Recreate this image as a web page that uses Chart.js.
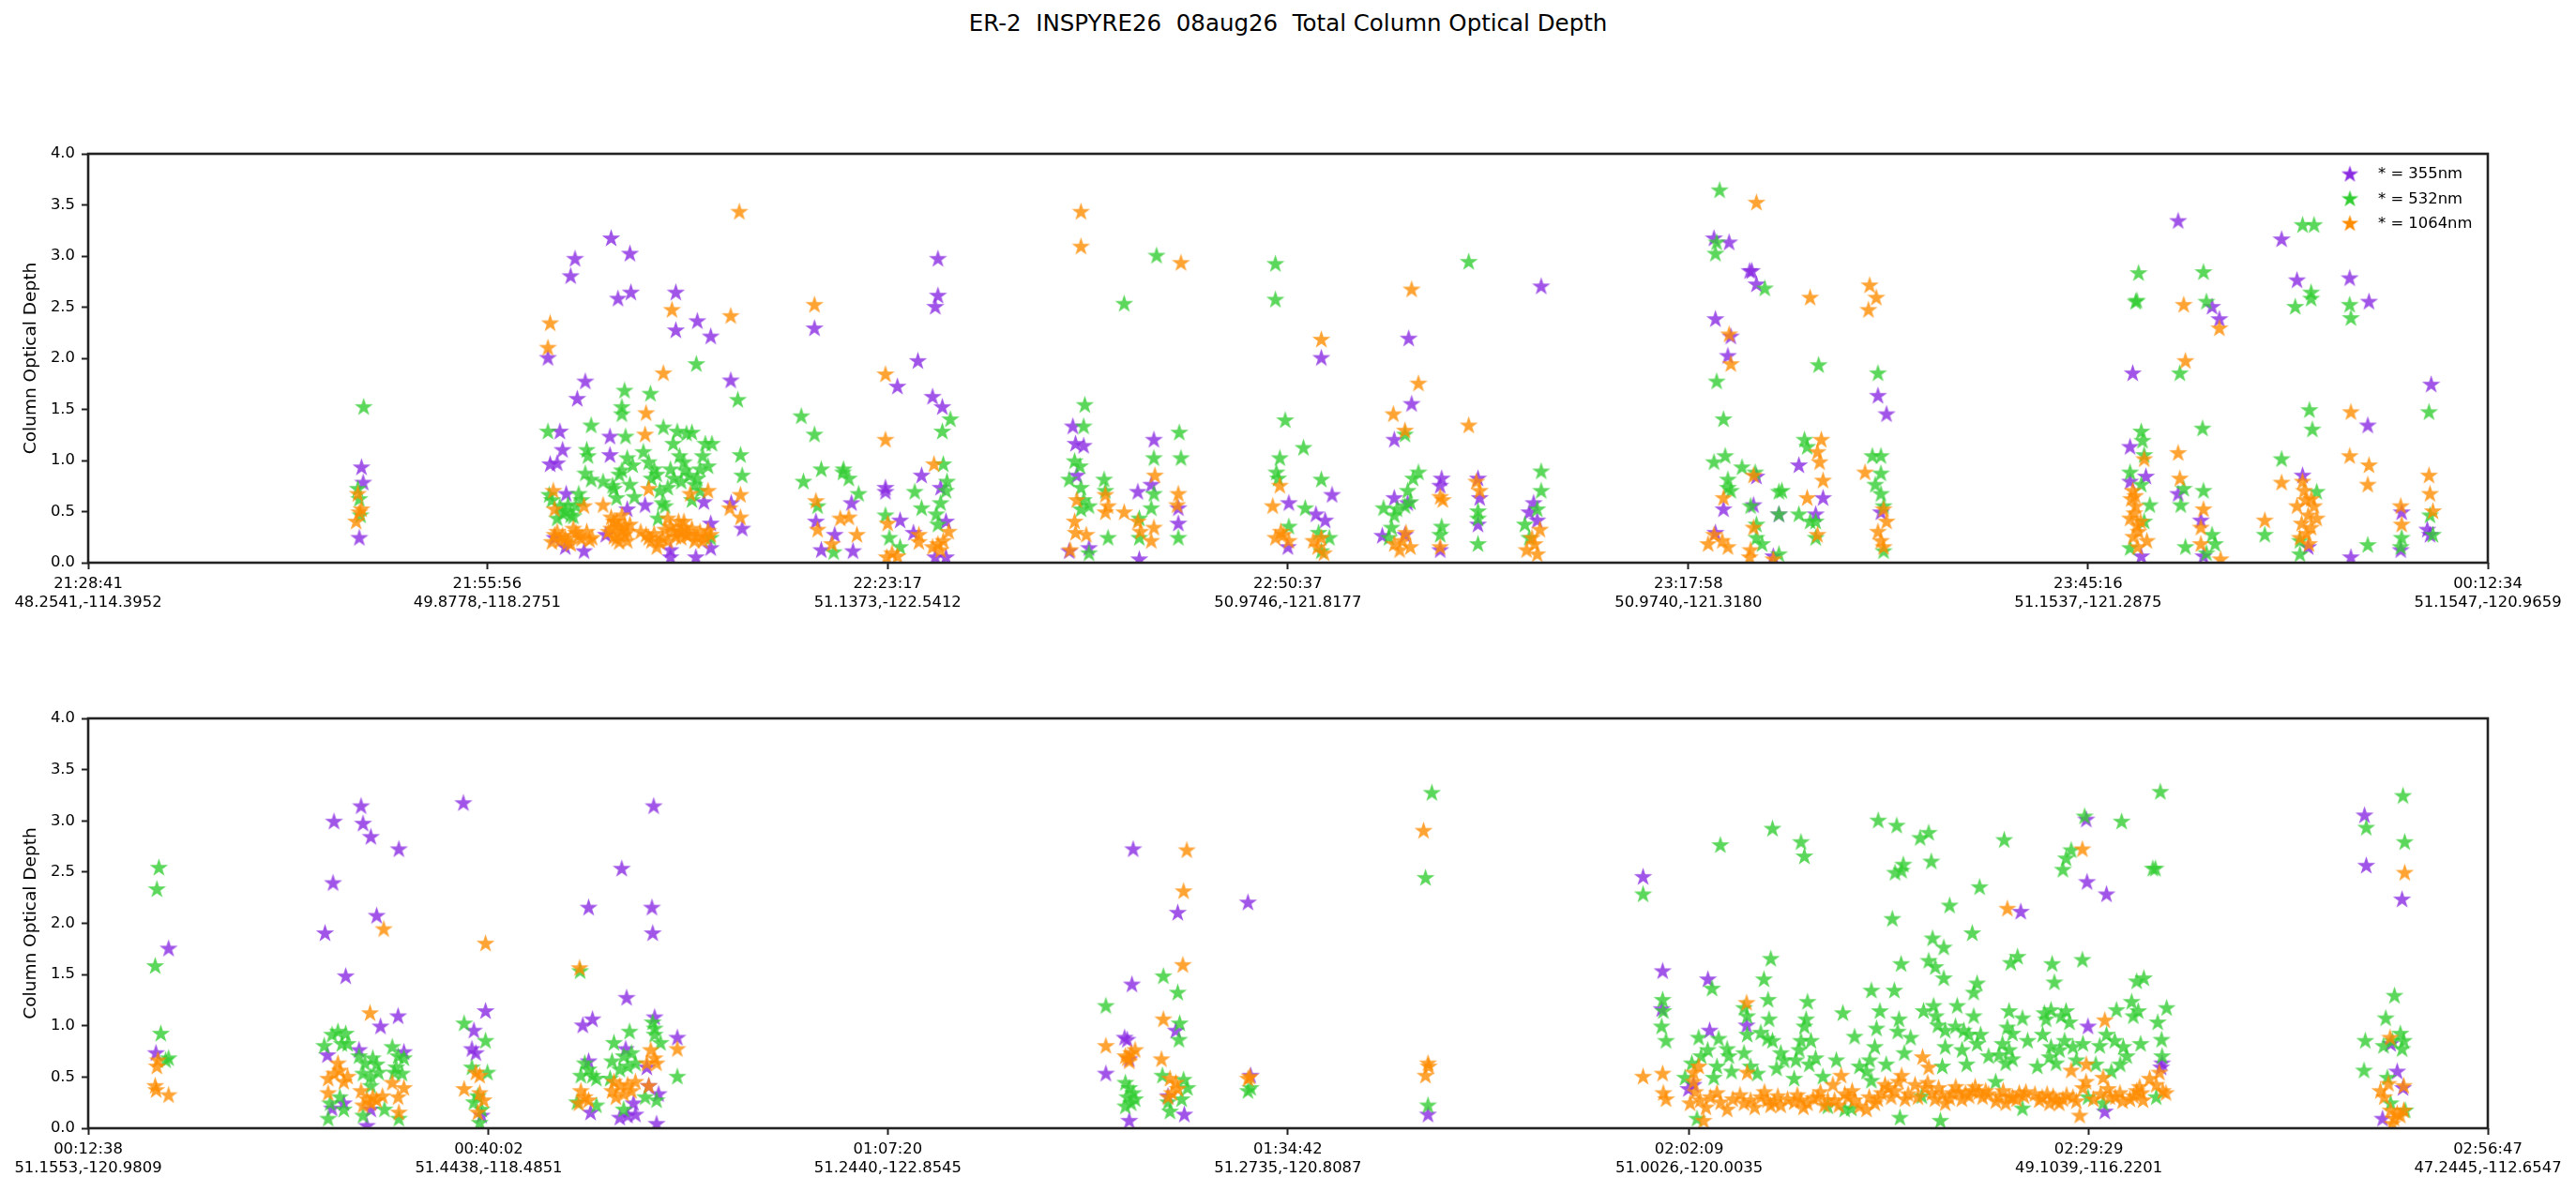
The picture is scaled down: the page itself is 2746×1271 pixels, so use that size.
<!DOCTYPE html>
<html>
<head>
<meta charset="utf-8">
<script src="https://cdn.jsdelivr.net/npm/chart.js@4.4.1/dist/chart.umd.min.js"></script>
<style>
    html, body { margin: 0; padding: 0; background: #fff; }
    body { width: 2746px; height: 1271px; position: relative; overflow: hidden; font-family: "DejaVu Sans", sans-serif; }
    #title { position: absolute; left: 0; top: 13px; width: 2746px; text-align: center; font-size: 24.5px; line-height: 24.5px; color: #000; white-space: pre; }
    .panel { position: absolute; left: 0; width: 2746px; }
    #p1 { top: 140px; height: 560px; }
    #p2 { top: 700px; height: 571px; }
</style>
</head>
<body>
<div id="title">ER-2  INSPYRE26  08aug26  Total Column Optical Depth</div>
<div class="panel" id="p1"><canvas id="topChart"></canvas></div>
<div class="panel" id="p2"><canvas id="bottomChart"></canvas></div>
<script>
// tick labels (time, lat/lon) for each leg
const topTimes = ['21:28:41', '21:55:56', '22:23:17', '22:50:37', '23:17:58', '23:45:16', '00:12:34'];
const topPlaces = ['48.2541,-114.3952', '49.8778,-118.2751', '51.1373,-122.5412', '50.9746,-121.8177', '50.9740,-121.3180', '51.1537,-121.2875', '51.1547,-120.9659'];
const botTimes = ['00:12:38', '00:40:02', '01:07:20', '01:34:42', '02:02:09', '02:29:29', '02:56:47'];
const botPlaces = ['51.1553,-120.9809', '51.4438,-118.4851', '51.2440,-122.8545', '51.2735,-120.8087', '51.0026,-120.0035', '49.1039,-116.2201', '47.2445,-112.6547'];

const yTicks = [0, 0.5, 1, 1.5, 2, 2.5, 3, 3.5, 4];

// [seconds after first tick, optical depth]
const top355 = [
    [1120,0.93],[1127,0.78],[1111,0.24],
    [1884,2.0],[1995,2.97],[1977,2.80],[2037,1.77],[2004,1.60],[1933,1.28],[1944,1.10],[1893,0.96],[1922,0.97],[2143,3.17],[2171,2.58],[2220,3.02],[2224,2.64],[2138,1.23],[2138,1.05],[2209,0.52],[2408,2.64],[2408,2.27],[2496,2.36],[2551,2.21],[2633,1.78],[2635,0.58],[2680,0.33],[2282,0.56],[2386,0.12],[2386,0.05],[2490,0.05],[2523,0.59],[2551,0.14],[2032,0.11],[1955,0.15],[1911,0.24],[2121,0.27],[1959,0.67],[2551,0.38],
    [2976,2.29],[2982,0.40],[3004,0.12],[3059,0.27],
    [3128,0.58],[3134,0.11],[3267,0.73],[3267,0.69],[3316,1.72],[3400,1.97],[3415,0.85],[3327,0.41],[3382,0.29],[3460,1.62],[3500,1.52],[3482,2.97],[3482,2.61],[3471,2.50],[3493,0.73],[3515,0.40],[3471,0.05],[3515,0.05],
    [4035,1.33],[4046,1.16],[4079,1.14],[4051,0.85],[4367,1.20],[4301,0.69],[4356,0.76],[4467,0.53],[4467,0.38],[4307,0.03],[4020,0.11],[4101,0.14],
    [5053,2.00],[4920,0.58],[5097,0.66],[5031,0.47],[5069,0.41],[4916,0.15],
    [5411,2.19],[5423,1.55],[5352,1.20],[5352,0.63],[5303,0.26],[5407,0.58],[5396,0.27],
    [5546,0.82],[5540,0.75],[5695,0.82],[5702,0.63],[5695,0.37],[5540,0.12],
    [5954,2.70],[5923,0.58],[5905,0.49],[5938,0.41],
    [6662,3.17],[6724,3.13],[6808,2.85],[6817,2.85],[6836,2.72],[6668,2.38],[6731,2.21],[6719,2.02],[7334,1.63],[7369,1.45],[7010,0.95],[6836,0.84],[7109,0.63],[6701,0.52],[6824,0.56],[7079,0.47],[6928,0.47],[7346,0.49],[6905,0.06],[6668,0.29],
    [8378,1.85],[8564,3.34],[8703,2.50],[8733,2.38],[8988,3.16],[9051,2.76],[9267,2.78],[9346,2.55],[9601,1.74],[9341,1.34],[8367,1.13],[8432,0.84],[8367,0.79],[8564,0.67],[9074,0.85],[9480,0.49],[9585,0.32],[9596,0.27],[8413,0.06],[8657,0.41],[8668,0.06],[9272,0.05],[9097,0.15],[9476,0.12]
];
const top532 = [
    [1129,1.52],[1105,0.72],[1111,0.62],[1116,0.46],
    [1884,1.28],[2061,1.34],[2198,1.68],[2187,1.52],[2187,1.45],[2202,1.23],[2304,1.65],[2357,1.32],[2492,1.94],[2662,1.59],[2673,1.05],[2680,0.85],[2043,1.10],[2048,1.04],[2037,0.87],[2061,0.81],[2010,0.67],[1889,0.66],[1900,0.61],[1933,0.55],[1955,0.50],[1977,0.46],[1922,0.43],[1999,0.55],[2021,0.61],[2110,0.79],[2149,0.75],[2165,0.63],[2187,0.90],[2209,1.02],[2220,0.76],[2238,0.64],[2275,1.08],[2297,0.98],[2308,0.82],[2319,0.91],[2342,0.70],[2353,0.58],[2335,0.43],[2364,0.55],[2375,0.73],[2386,0.91],[2397,1.16],[2414,1.28],[2452,1.26],[2474,1.27],[2423,1.04],[2441,0.98],[2463,0.85],[2485,0.76],[2507,0.91],[2518,1.04],[2529,1.16],[2556,1.16],[2507,0.70],[2430,0.79],[2474,0.61],[2551,0.24],
    [1944,0.48],[1966,0.56],[1988,0.45],[2154,0.72],[2176,0.86],[2231,0.95],[2330,0.86],[2400,0.82],[2445,0.90],[2496,0.82],[2540,0.94],
    [2922,1.43],[2976,1.25],[3004,0.91],[2931,0.79],[2989,0.55],[3055,0.10],[3093,0.88],
    [3095,0.91],[3117,0.82],[3157,0.67],[3267,0.46],[3283,0.24],[3387,0.69],[3415,0.53],[3500,1.28],[3533,1.40],[3504,0.96],[3493,0.58],[3475,0.47],[3519,0.79],[3515,0.70],[3482,0.37],[3327,0.15],
    [4084,1.54],[4079,1.33],[4042,0.99],[4064,0.94],[4020,0.81],[4068,0.73],[4079,0.61],[4068,0.52],[4101,0.55],[4163,0.81],[4168,0.70],[4245,2.53],[4378,3.00],[4367,1.02],[4367,0.67],[4356,0.53],[4307,0.43],[4179,0.24],[4101,0.09],[4471,1.27],[4478,1.02],[4467,0.24],[4307,0.24],
    [4865,2.92],[4865,2.57],[4905,1.39],[4980,1.12],[4883,1.02],[4869,0.88],[4876,0.82],[5053,0.81],[4987,0.53],[4920,0.35],[5086,0.24],[5042,0.29],[5053,0.11],
    [5396,1.25],[5451,0.88],[5429,0.82],[5407,0.70],[5308,0.53],[5352,0.46],[5363,0.52],[5396,0.55],[5418,0.59],[5341,0.34],[5330,0.24],
    [5657,2.94],[5546,0.35],[5540,0.27],[5695,0.50],[5695,0.43],[5695,0.18],
    [5954,0.89],[5954,0.70],[5938,0.52],[5887,0.37],[5905,0.24],
    [6685,3.64],[6668,3.02],[6673,3.13],[6870,2.68],[6673,1.77],[6701,1.40],[7091,1.93],[7334,1.85],[6662,0.98],[6708,1.04],[6777,0.93],[6719,0.81],[6719,0.73],[6731,0.70],[6831,0.88],[6812,0.55],[6836,0.37],[6836,0.24],[6859,0.18],[6928,0.69],[6940,0.70],[6928,0.47],[7010,0.47],[7056,0.40],[7079,0.40],[7033,1.20],[7044,1.13],[7311,1.04],[7346,1.04],[7346,0.87],[7323,0.76],[7346,0.67],[7357,0.55],[7357,0.11],[7079,0.24],[6928,0.08],
    [8402,2.83],[8390,2.55],[8395,2.56],[8668,2.84],[8680,2.55],[8571,1.85],[9074,3.30],[9121,3.30],[9109,2.64],[9109,2.58],[9044,2.50],[9267,2.52],[9272,2.39],[9102,1.49],[9114,1.30],[9592,1.47],[8664,1.31],[8413,1.28],[8418,1.19],[8425,1.05],[8367,0.88],[8413,0.76],[8448,0.56],[8425,0.40],[8367,0.14],[8587,0.72],[8668,0.70],[8575,0.56],[8594,0.15],[8703,0.27],[8715,0.18],[8680,0.09],[8988,1.01],[8919,0.27],[9132,0.69],[9063,0.21],[9063,0.08],[9341,0.17],[9480,0.24],[9476,0.15],[9596,0.46],[9608,0.27]
];
const top1064 = [
    [1105,0.67],[1120,0.52],[1098,0.40],[1111,0.49],
    [1893,2.34],[1884,2.10],[2392,2.47],[2633,2.41],[2668,3.43],[2357,1.85],[2286,1.46],[2282,1.25],[1906,0.70],[1911,0.52],[2032,0.55],[2110,0.56],[2297,0.72],[2467,0.67],[2540,0.70],[2673,0.66],[2673,0.44],[2629,0.53],
    [1911,0.27],[1933,0.21],[1955,0.24],[1977,0.18],[1999,0.29],[2021,0.23],[2043,0.30],[2065,0.24],[2154,0.40],[2176,0.34],[2165,0.23],[2198,0.27],[2220,0.37],[2187,0.46],[2209,0.21],[2132,0.30],[2286,0.27],[2308,0.21],[2330,0.15],[2353,0.24],[2375,0.21],[2397,0.30],[2419,0.40],[2441,0.34],[2463,0.27],[2430,0.24],[2485,0.21],[2507,0.30],[2529,0.24],[2551,0.27],[2375,0.43],[2264,0.30],
    [1900,0.20],[1922,0.30],[1944,0.26],[1966,0.20],[1988,0.33],[2010,0.26],[2054,0.22],[2143,0.33],[2154,0.25],[2176,0.20],[2187,0.31],[2198,0.36],[2143,0.44],[2209,0.30],[2297,0.24],[2319,0.28],[2342,0.20],[2364,0.32],[2408,0.25],[2419,0.31],[2452,0.27],[2474,0.33],[2496,0.25],[2518,0.21],[2540,0.31],[2165,0.40],[2386,0.35],[2441,0.40],[2430,0.30],
    [2976,2.52],[2982,0.60],[2989,0.32],[3048,0.18],[3082,0.43],
    [3267,1.84],[3267,1.20],[3466,0.96],[3117,0.44],[3150,0.27],[3276,0.38],[3294,0.09],[3316,0.06],[3404,0.20],[3404,0.27],[3460,0.15],[3482,0.18],[3504,0.21],[3526,0.30],[3493,0.12],[3272,0.05],
    [4068,3.43],[4068,3.09],[4478,2.93],[4371,0.85],[4467,0.67],[4462,0.56],[4168,0.66],[4168,0.49],[4179,0.55],[4245,0.49],[4301,0.40],[4312,0.30],[4367,0.34],[4356,0.21],[4051,0.61],[4042,0.40],[4046,0.29],[4090,0.27],[4024,0.12],
    [5053,2.18],[4883,0.75],[4854,0.55],[4865,0.24],[4898,0.27],[4920,0.21],[4887,0.30],[5020,0.21],[5038,0.15],[5064,0.09],[5053,0.24],
    [5423,2.67],[5451,1.75],[5348,1.45],[5396,1.29],[5400,0.29],[5352,0.18],[5374,0.12],[5418,0.15],[5385,0.21],
    [5657,1.34],[5540,0.64],[5551,0.61],[5688,0.79],[5702,0.70],[5540,0.15],
    [5949,0.32],[5916,0.24],[5927,0.18],[5894,0.12],[5938,0.08],
    [6836,3.52],[7300,2.71],[7327,2.59],[7056,2.59],[7295,2.47],[6724,2.23],[6731,1.94],[7102,1.20],[7086,1.08],[7095,0.98],[7109,0.80],[6824,0.85],[7281,0.88],[7044,0.63],[6701,0.63],[7357,0.52],[6662,0.27],[6696,0.21],[6638,0.18],[6719,0.15],[6824,0.34],[6812,0.12],[6808,0.05],[6905,0.03],[7086,0.27],[7334,0.30],[7346,0.21],[7357,0.15],[7369,0.40],
    [8587,2.52],[8594,1.97],[8733,2.29],[9272,1.47],[9267,1.04],[9346,0.95],[9341,0.76],[8564,1.07],[8571,0.82],[8425,1.01],[8988,0.78],[9074,0.79],[9592,0.85],[9596,0.67],[9608,0.50],[9476,0.55],[9480,0.37],[8919,0.41],[8378,0.70],[8390,0.55],[8367,0.43],[8402,0.30],[8436,0.21],[8668,0.52],[8657,0.34],[8657,0.18],[8738,0.03],[9051,0.55],[9097,0.46],[9121,0.55],[9109,0.34],[9063,0.24],[9132,0.43],[9086,0.61],
    [8372,0.62],[8385,0.48],[8395,0.36],[8380,0.25],[8410,0.40],[8398,0.15],[8388,0.65],[9070,0.38],[9090,0.28],[9110,0.62],[9080,0.70],[9100,0.18]
];

const bot355 = [
    [330,1.75],[278,0.73],
    [1009,2.99],[1120,3.14],[1128,2.97],[1160,2.84],[1275,2.72],[1005,2.39],[1184,2.07],[972,1.90],[1057,1.48],[1272,1.09],[1200,0.99],[982,0.71],[1112,0.76],[1296,0.74],[1001,0.19],[1144,0.02],[1049,0.24],[1160,0.18],
    [1540,3.17],[1631,1.14],[1583,0.95],[1575,0.77],[1591,0.73],[1615,0.12],
    [2321,3.14],[2190,2.53],[2054,2.15],[2314,2.15],[2317,1.90],[2210,1.27],[2030,1.00],[2070,1.06],[2325,1.08],[2418,0.88],[2054,0.65],[2206,0.77],[2293,0.59],[2062,0.15],[2182,0.10],[2214,0.12],[2246,0.13],[2333,0.04],[2238,0.24],[2341,0.33],[2301,0.41],
    [4289,2.72],[4284,1.40],[4254,0.88],[4265,0.86],[4177,0.53],[4273,0.67],[4273,0.07],
    [4472,2.10],[4464,0.95],[4499,0.13],[4432,0.31],
    [4760,2.20],[4771,0.51],
    [5499,0.13],
    [6382,2.45],[6462,1.53],[6648,1.45],[6655,0.95],[6807,1.00],[6458,1.16],[7932,2.11],[8201,3.01],[8204,2.40],[8284,2.28],[8208,0.99],[8277,0.16],[6568,0.38],[6589,0.42],
    [8512,0.63],[8508,0.59],
    [9343,3.05],[9350,2.56],[9497,2.23],[9477,0.55],[9501,0.39],[9417,0.09],[9450,0.82]
];
const bot532 = [
    [290,2.54],[282,2.33],[275,1.58],[298,0.92],[330,0.68],[318,0.66],
    [969,0.80],[1001,0.91],[1025,0.94],[1057,0.92],[1041,0.82],[1065,0.82],[1112,0.70],[1136,0.63],[1168,0.68],[1184,0.62],[1128,0.53],[1160,0.50],[1192,0.54],[1248,0.79],[1272,0.70],[1296,0.68],[1264,0.59],[1288,0.53],[1256,0.54],[985,0.09],[1049,0.18],[1128,0.12],[1216,0.18],[1275,0.09],[1033,0.30],[1160,0.41],[993,0.24],
    [1543,1.02],[1631,0.85],[1639,0.54],[1575,0.59],[1583,0.25],[1607,0.05],[1615,0.18],[1599,0.31],
    [2019,1.53],[2317,1.03],[2325,0.97],[2325,0.91],[2222,0.94],[2158,0.83],[2349,0.83],[2022,0.51],[2038,0.63],[2054,0.57],[2070,0.51],[2086,0.48],[2150,0.65],[2182,0.57],[2198,0.70],[2230,0.73],[2246,0.63],[2214,0.60],[2142,0.48],[2418,0.50],[2286,0.30],[2333,0.27],[2198,0.18],[2006,0.25],[2086,0.22],
    [4177,1.19],[4257,0.44],[4273,0.39],[4289,0.34],[4265,0.30],[4281,0.24],[4257,0.21],[4297,0.28],
    [4413,1.48],[4472,1.32],[4480,1.02],[4477,0.86],[4409,0.51],[4496,0.47],[4512,0.39],[4440,0.16],[4488,0.28],[4432,0.25],
    [4760,0.36],[4771,0.39],
    [5515,3.27],[5489,2.44],[5499,0.22],
    [6382,2.28],[6699,2.76],[6913,2.92],[7030,2.79],[7044,2.65],[7347,3.00],[7423,2.95],[7519,2.83],[7554,2.88],[7565,2.60],[7416,2.49],[7450,2.57],[7443,2.51],[7864,2.81],[7763,2.35],[7640,2.17],[7405,2.04],[7733,1.90],[7570,1.85],[7616,1.76],[7891,1.61],[7919,1.67],[8061,1.60],[8185,1.64],[8070,1.42],[8139,2.71],[8118,2.63],[8105,2.52],[8194,3.04],[8346,2.99],
    [7441,1.60],[7554,1.63],[7581,1.57],[7616,1.46],[7753,1.41],[7739,1.32],[6906,1.65],[6878,1.45],[6895,1.25],[6899,1.06],[6865,0.93],[6892,0.87],[6913,0.85],[6462,1.25],[6465,1.14],[6458,0.99],[6476,0.85],[6665,1.36],[6610,0.88],[6647,0.76],[6692,0.87],[6727,0.77],[6734,0.70],[6582,0.63],[6685,0.60],[6672,0.49],
    [6796,1.17],[6809,1.09],[6809,0.91],[6796,0.73],[6823,0.60],[6851,0.53],[6947,0.73],[6961,0.66],[7057,1.23],[7051,1.06],[7044,0.99],[7030,0.85],[7071,0.85],[7023,0.76],[7009,0.66],[7064,0.62],[7002,0.48],[7202,1.12],[7250,0.89],[7175,0.66],[7319,1.34],[7354,1.14],[7340,0.97],[7333,0.79],[7312,0.66],[7299,0.55],[7319,0.46],
    [7413,1.34],[7432,1.06],[7427,0.94],[7454,0.73],[7533,1.14],[7574,1.19],[7584,1.09],[7592,1.00],[7622,0.95],[7622,0.79],[7671,1.19],[7664,0.99],[7698,0.95],[7719,0.91],[7739,1.09],[7767,0.91],[7753,0.82],[7691,0.76],[7884,1.14],[7939,1.07],[7877,0.98],[7898,0.92],[7857,0.82],[7884,0.76],[7843,0.71],[7898,0.67],[7870,0.63],[7829,0.45],
    [8029,1.12],[8056,1.15],[8118,1.14],[8098,1.09],[8132,1.03],[8036,1.06],[8022,0.91],[8112,0.85],[8056,0.79],[8091,0.76],[8050,0.69],[8077,0.63],[8146,0.79],[8187,0.82],[8256,0.80],[8325,1.15],[8387,1.23],[8408,1.43],[8284,0.91],[8318,0.85],[8353,0.79],[8367,0.70],[8394,1.09],[8304,0.55],[8208,0.30],[8270,0.24],[7939,0.19],[7602,0.07],[7436,0.10],[7237,0.19],[7209,0.18],[7140,0.21],[7526,0.31],[6603,0.09],[6554,0.49],
    [6620,0.70],[6745,0.55],[6930,0.58],[7090,0.68],[7120,0.50],[7270,0.60],[7380,0.62],[7480,0.88],[7610,0.60],[7710,0.62],[7800,0.70],[7960,0.85],[8000,0.60],[8160,0.66],[8240,0.62],[8340,0.62],
    [8505,3.28],[8485,2.53],[8474,2.53],[8437,1.46],[8531,1.17],[8494,1.03],[8510,0.86],[8512,0.70],[8424,0.82],[8414,1.14],[8488,0.30],
    [9501,3.24],[9350,2.93],[9508,2.79],[9466,1.29],[9430,1.07],[9346,0.85],[9421,0.80],[9490,0.92],[9504,0.85],[9497,0.77],[9457,0.85],[9341,0.56],[9437,0.49],[9510,0.17],[9450,0.24]
];
const bot1064 = [
    [286,0.66],[282,0.60],[275,0.41],[279,0.37],[330,0.32],
    [1213,1.94],[1157,1.12],[1025,0.63],[985,0.48],[1009,0.53],[1033,0.56],[1049,0.45],[1065,0.50],[985,0.34],[1120,0.36],[1144,0.28],[1168,0.30],[1184,0.27],[1208,0.31],[1248,0.44],[1272,0.30],[1296,0.39],[1275,0.15],[1160,0.24],[1128,0.22],
    [1631,1.80],[1591,0.54],[1607,0.51],[1543,0.38],[1607,0.34],[1623,0.27],[1599,0.15],
    [2017,1.56],[2418,0.77],[2309,0.76],[2325,0.68],[2333,0.63],[2293,0.63],[2301,0.41],[2022,0.36],[2038,0.30],[2054,0.27],[2014,0.24],[2150,0.36],[2182,0.41],[2214,0.42],[2230,0.36],[2166,0.30],[2198,0.33],[2246,0.45],[2158,0.45],
    [4177,0.80],[4257,0.70],[4281,0.73],[4297,0.76],[4273,0.65],[4265,0.68],
    [4509,2.71],[4496,2.31],[4493,1.59],[4413,1.06],[4405,0.67],[4440,0.48],[4464,0.44],[4472,0.38],[4448,0.34],[4432,0.30],
    [4760,0.48],[4768,0.50],
    [5481,2.90],[5499,0.63],[5502,0.60],[5489,0.51],
    [6807,1.22],[7877,2.14],[8185,2.72],[8277,1.05],[6382,0.50],[6462,0.53],[6465,0.34],[6476,0.28],[6610,0.60],[6589,0.54],[6809,0.54],[7529,0.69],[7554,0.59],[8201,0.62],[8139,0.56],[8270,0.49],[7195,0.51],[7443,0.51],[7161,0.42],[6589,0.45],
    [6575,0.24],[6616,0.27],[6658,0.30],[6685,0.34],[6727,0.18],[6630,0.07],[6796,0.24],[6823,0.27],[6865,0.30],[6892,0.27],[6920,0.25],[6947,0.22],[7002,0.25],[7030,0.27],[7057,0.24],[7099,0.30],[7126,0.22],[7168,0.27],[7223,0.30],[7250,0.27],[7299,0.18],[7333,0.24],[7361,0.34],[7388,0.39],[7416,0.36],[7457,0.28],[7498,0.42],[7540,0.39],[7567,0.34],[7595,0.39],[7622,0.24],[7650,0.34],[7678,0.35],[7705,0.34],[7733,0.36],[7760,0.35],[7788,0.36],[7843,0.31],[7870,0.24],[7898,0.30],[7926,0.34],[7953,0.35],[8008,0.27],[8050,0.24],[8077,0.27],[8105,0.28],[8146,0.30],[8187,0.39],[8298,0.30],[8339,0.34],[8380,0.28],[8408,0.36],[8174,0.12],
    [6596,0.35],[6640,0.20],[6700,0.25],[6750,0.28],[6780,0.32],[6840,0.20],[6880,0.35],[6905,0.22],[6935,0.31],[6975,0.28],[7015,0.32],[7040,0.20],[7080,0.29],[7110,0.35],[7140,0.27],[7185,0.22],[7210,0.33],[7240,0.36],[7270,0.21],[7310,0.30],[7345,0.28],[7375,0.42],[7400,0.30],[7430,0.45],[7470,0.33],[7510,0.30],[7550,0.44],[7580,0.28],[7610,0.32],[7640,0.29],[7665,0.40],[7690,0.28],[7720,0.31],[7745,0.40],[7775,0.30],[7800,0.33],[7830,0.26],[7860,0.36],[7885,0.30],[7915,0.28],[7945,0.31],[7990,0.33],[8020,0.30],[8040,0.33],[8065,0.31],[8090,0.24],[8120,0.32],[8160,0.26],[8200,0.45],[8230,0.28],[8260,0.33],[8290,0.38],[8320,0.30],[8350,0.26],[8395,0.31],[8420,0.40],
    [8501,0.54],[8515,0.36],[8528,0.34],[8488,0.42],[8461,0.48],[8434,0.27],[8428,0.34],
    [9508,2.49],[9448,0.88],[9441,0.43],[9504,0.41],[9408,0.36],[9424,0.30],[9450,0.17],[9477,0.14],[9504,0.17],[9464,0.09],[9457,0.04],[9490,0.12]
];

const FONT = 'DejaVu Sans';
const INK = '#222';
const colours = {
    p355: 'rgba(138, 43, 226, 0.8)',
    p532: 'rgba(50, 205, 50, 0.8)',
    p1064: 'rgba(255, 140, 0, 0.8)'
};
const solid = { p355: '#8a2be2', p532: '#32cd32', p1064: '#ff8c00' };

// filled 5-point star like matplotlib's '*'
function makeStar(colour, r) {
    const s = Math.ceil(r * 2 + 4);
    const c = document.createElement('canvas');
    c.width = s; c.height = s;
    const g = c.getContext('2d');
    g.beginPath();
    for (let i = 0; i < 10; i++) {
        const rad = i % 2 ? r * 0.382 : r;
        const a = -Math.PI / 2 + i * Math.PI / 5;
        const x = s / 2 + rad * Math.cos(a), y = s / 2 + rad * Math.sin(a);
        if (i) g.lineTo(x, y); else g.moveTo(x, y);
    }
    g.closePath();
    g.fillStyle = colour;
    g.fill();
    return c;
}

const stars = {
    p355: makeStar(colours.p355, 10.2), p532: makeStar(colours.p532, 10.2), p1064: makeStar(colours.p1064, 10.2)
};
const legendStars = {
    p355: makeStar(solid.p355, 9.5), p532: makeStar(solid.p532, 9.5), p1064: makeStar(solid.p1064, 9.5)
};

function toSec(t) {
    const [h, m, s] = t.split(':').map(Number);
    return h * 3600 + m * 60 + s;
}
function tickOffsets(times) {
    const t0 = toSec(times[0]);
    return times.map(t => (toSec(t) - t0 + 86400) % 86400);
}

// box round the plot, like the matplotlib spines
const frame = {
    id: 'frame',
    afterDatasetsDraw(chart) {
        const { ctx, chartArea: a } = chart;
        ctx.save();
        ctx.strokeStyle = INK;
        ctx.lineWidth = 2.6;
        ctx.strokeRect(a.left, a.top, a.right - a.left, a.bottom - a.top);
        ctx.restore();
    }
};

// legend in the upper right, inside the axes
const starLegend = {
    id: 'starLegend',
    afterDraw(chart, args, opts) {
        if (!opts.show) return;
        const { ctx, chartArea: a } = chart;
        ctx.save();
        ctx.font = '16.4px "' + FONT + '"';
        ctx.fillStyle = '#000';
        ctx.textBaseline = 'middle';
        chart.data.datasets.forEach((ds, i) => {
            const y = a.top + 22 + i * 26.3;
            const img = legendStars[ds.key];
            ctx.drawImage(img, a.right - 147 - img.width / 2, y - img.height / 2);
            ctx.fillText(ds.label, a.right - 117, y);
        });
        ctx.restore();
    }
};

function datasets(d355, d532, d1064) {
    return [
        { key: 'p355', label: '* = 355nm', data: d355, pointStyle: stars.p355, order: 3 },
        { key: 'p532', label: '* = 532nm', data: d532, pointStyle: stars.p532, order: 2 },
        { key: 'p1064', label: '* = 1064nm', data: d1064, pointStyle: stars.p1064, order: 1 }
    ].map(ds => Object.assign(ds, { pointRadius: 10, pointHoverRadius: 10, showLine: false }));
}

function panel(canvasId, sets, times, places, padTop, xHeight, showLegend) {
    const ticksAt = tickOffsets(times);
    const tickFont = { family: FONT, size: 16.4, lineHeight: 1.25 };
    new Chart(document.getElementById(canvasId), {
        type: 'scatter',
        data: { datasets: sets },
        options: {
            responsive: true,
            maintainAspectRatio: false,
            animation: false,
            events: [],
            layout: { padding: { left: 0, right: 94, top: padTop, bottom: 0 } },
            plugins: {
                legend: { display: false },
                tooltip: { enabled: false },
                starLegend: { show: showLegend }
            },
            scales: {
                x: {
                    type: 'linear',
                    min: ticksAt[0],
                    max: ticksAt[ticksAt.length - 1],
                    afterBuildTicks: s => { s.ticks = ticksAt.map(v => ({ value: v })); },
                    afterFit: s => { s.height = xHeight; },
                    border: { display: false },
                    grid: { drawOnChartArea: false, drawTicks: true, tickLength: 7, tickColor: INK, tickWidth: 2 },
                    ticks: {
                        autoSkip: false, maxRotation: 0, padding: 5, color: '#000', font: tickFont,
                        callback: (v, i) => [times[i], places[i]]
                    }
                },
                y: {
                    min: 0,
                    max: 4,
                    afterBuildTicks: s => { s.ticks = yTicks.map(v => ({ value: v })); },
                    afterFit: s => { s.width = 94; },
                    border: { display: false },
                    grid: { drawOnChartArea: false, drawTicks: true, tickLength: 7, tickColor: INK, tickWidth: 2 },
                    ticks: { padding: 7, color: '#000', font: tickFont, callback: v => v.toFixed(1) },
                    title: {
                        display: true, text: 'Column Optical Depth', color: '#000',
                        font: { family: FONT, size: 18.5 }, padding: { top: 22, bottom: 0 }
                    }
                }
            }
        },
        plugins: [frame, starLegend]
    });
}

panel('topChart', datasets(top355, top532, top1064), topTimes, topPlaces, 24, 100, true);
panel('bottomChart', datasets(bot355, bot532, bot1064), botTimes, botPlaces, 66, 68, false);
</script>
</body>
</html>
